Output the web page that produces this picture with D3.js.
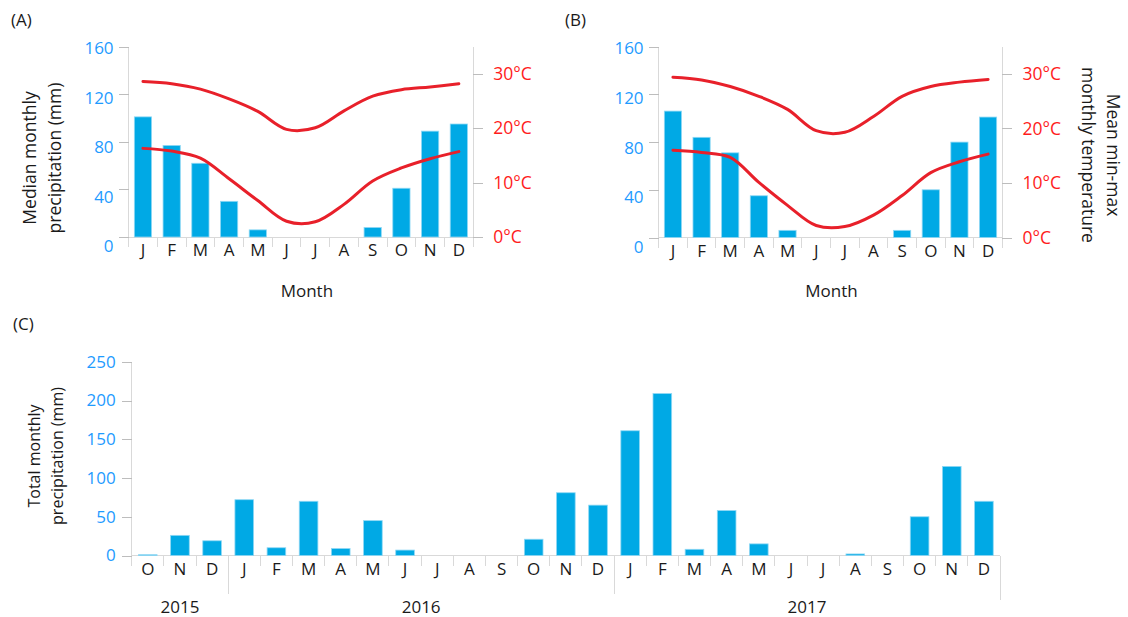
<!DOCTYPE html>
<html>
<head>
<meta charset="utf-8">
<script src="https://cdn.jsdelivr.net/npm/d3@7"></script>
<style>
  html, body { margin: 0; padding: 0; background: #fff; }
  svg { display: block; font-family: "Open Sans", "DejaVu Sans", sans-serif; }
</style>
</head>
<body>
<svg id="chart" width="1128" height="617"></svg>
<script>
// ---- data ----
const monthLetters = ["J","F","M","A","M","J","J","A","S","O","N","D"];

// Site A: median monthly precipitation (mm), mean max / min temperature (°C)
const precipA = [101, 77, 62, 30, 6, 0, 0, 0, 8, 41, 89, 95];
const tmaxA   = [28.6, 28.2, 27.2, 25.4, 23.1, 19.8, 20.1, 23.2, 25.9, 27.1, 27.6, 28.2];
const tminA   = [16.3, 15.8, 14.5, 10.7, 6.7, 2.9, 2.8, 6.0, 10.3, 12.7, 14.4, 15.7];

// Site B
const precipB = [106, 84, 71, 35, 6, 0, 0, 0, 6, 40, 80, 101];
const tmaxB   = [29.4, 28.9, 27.7, 25.9, 23.5, 19.6, 19.3, 22.2, 25.9, 27.7, 28.5, 29.0];
const tminB   = [16.0, 15.6, 14.7, 10.1, 5.9, 2.2, 2.0, 4.1, 7.7, 11.9, 13.9, 15.3];

const precipTicks = [0, 40, 80, 120, 160];
const tempTicks = [0, 10, 20, 30];

// Panel C: total monthly precipitation, Oct 2015 – Dec 2017
const monthsC = ["O","N","D","J","F","M","A","M","J","J","A","S","O","N","D",
                 "J","F","M","A","M","J","J","A","S","O","N","D"];
const precipC = [1, 26, 19, 72, 10, 70, 9, 45, 7, 0, 0, 0, 21, 81, 65,
                 161, 209, 8, 58, 15, 0, 0, 2, 0, 50, 115, 70];
const years = ["2015", "2016", "2017"];
const monthsPerYear = [3, 12, 12];
const precipTicksC = [0, 50, 100, 150, 200, 250];

// ---- style ----
const BAR = "#00a9e5", BAR_EDGE = "#8fd8f4";
const LINE_RED = "#e8202a", TEMP_TXT = "#ff1c1c", BLUE_TXT = "#1e9bff";
const AXIS = "#d9d9d9", TICK = "#bdbdbd", INK = "#1a1a1a";

const svg = d3.select("#chart");
svg.append("rect").attr("width", 1128).attr("height", 617).attr("fill", "#fff");

function vline(g, x, y1, y2, color) {
  g.append("line").attr("x1", x).attr("x2", x).attr("y1", y1).attr("y2", y2)
    .attr("stroke", color).attr("stroke-width", 1).attr("shape-rendering", "crispEdges");
}
function hline(g, x1, x2, y, color) {
  g.append("line").attr("x1", x1).attr("x2", x2).attr("y1", y).attr("y2", y)
    .attr("stroke", color).attr("stroke-width", 1).attr("shape-rendering", "crispEdges");
}

function styleAxis(ax, color, size) {
  ax.select(".domain").remove();
  ax.selectAll(".tick line").attr("stroke", TICK).attr("shape-rendering", "crispEdges");
  ax.selectAll(".tick text").attr("fill", color).style("font-size", size + "px")
    .style("font-family", "'Open Sans', sans-serif");
}

// ---- climate panel (bars + min/max temperature lines) ----
function climatePanel(o) {
  const g = svg.append("g");
  const x = d3.scaleBand().domain(d3.range(12)).range([o.left, o.right])
    .paddingInner(0.4).paddingOuter(0.2);
  const y = d3.scaleLinear().domain([0, 160]).range([o.bottom, o.top]);
  const yT = d3.scaleLinear().domain([0, 35]).range([o.bottom, o.top]);
  // tick labels sit on a slightly looser spacing than the ticks themselves
  const yLab = d3.scaleLinear().domain([0, 160]).range([o.bottom + 9.5, o.top + 1.8]);
  const step = x.step();

  // axis frame
  vline(g, o.left, o.top, o.bottom + 10, AXIS);
  vline(g, o.right, o.top, o.bottom + 10, AXIS);
  hline(g, o.left, o.right, o.bottom, AXIS);
  for (let k = 1; k < 12; k++) vline(g, o.left + k * step, o.bottom, o.bottom + 10, AXIS);

  // left precipitation axis
  const axL = g.append("g").attr("transform", `translate(${o.left},0)`)
    .call(d3.axisLeft(y).tickValues(precipTicks).tickSize(10).tickPadding(5));
  styleAxis(axL, BLUE_TXT, 17);
  axL.selectAll(".tick text").attr("y", d => yLab(d) - y(d));

  // right temperature axis
  const axR = g.append("g").attr("transform", `translate(${o.right},0)`)
    .call(d3.axisRight(yT).tickValues(tempTicks).tickSize(10).tickPadding(10)
      .tickFormat(d => d + "°C"));
  styleAxis(axR, TEMP_TXT, 17.5);

  // month letters
  const axB = g.append("g").attr("transform", `translate(0,${o.bottom})`)
    .call(d3.axisBottom(x).tickSize(0).tickPadding(7).tickFormat(i => monthLetters[i]));
  styleAxis(axB, INK, 17);

  // bars
  g.selectAll("rect.bar").data(o.precip).join("rect").attr("class", "bar")
    .attr("x", (d, i) => x(i)).attr("width", x.bandwidth())
    .attr("y", d => y(d)).attr("height", d => y(0) - y(d))
    .attr("fill", BAR).attr("stroke", BAR_EDGE).attr("stroke-width", 0.8);

  // temperature lines
  const line = d3.line().x((d, i) => x(i) + x.bandwidth() / 2).y(d => yT(d))
    .curve(d3.curveCatmullRom.alpha(0.5));
  [o.tmax, o.tmin].forEach(series => {
    g.append("path").datum(series).attr("d", line).attr("fill", "none")
      .attr("stroke", LINE_RED).attr("stroke-width", 3).attr("stroke-linejoin", "round")
      .attr("stroke-linecap", "round");
  });

  // x title
  g.append("text").attr("x", (o.left + o.right) / 2 + o.monthDx).attr("y", 297)
    .attr("text-anchor", "middle").attr("fill", INK).style("font-size", "17px").text("Month");

  // panel tag
  svg.append("text").attr("x", o.tagX).attr("y", 26).attr("fill", INK)
    .style("font-size", "17px").text(o.tag);
  return g;
}

const gA = climatePanel({ left: 128.6, right: 473.2, top: 46.7, bottom: 237, precip: precipA,
  tmax: tmaxA, tmin: tminA, tag: "(A)", tagX: 11, monthDx: 6 });
const gB = climatePanel({ left: 658.6, right: 1002.4, top: 46.7, bottom: 237.5, precip: precipB,
  tmax: tmaxB, tmin: tminB, tag: "(B)", tagX: 565, monthDx: 1 });

// left axis title of A
const tA = svg.append("text").attr("transform", "translate(0,158) rotate(-90)")
  .attr("text-anchor", "middle").attr("fill", INK).style("font-size", "17.5px");
tA.append("tspan").attr("x", 0).attr("y", 36).text("Median monthly");
tA.append("tspan").attr("x", 0).attr("y", 61).text("precipitation (mm)");

// right axis title of B
const tB = svg.append("text").attr("transform", "translate(1100,155) rotate(90)")
  .attr("text-anchor", "middle").attr("fill", INK).style("font-size", "17.5px");
tB.append("tspan").attr("x", 0).attr("y", -7).text("Mean min-max");
tB.append("tspan").attr("x", 0).attr("y", 18).text("monthly temperature");

// ---- panel C: monthly totals ----
(function () {
  const left = 131.7, right = 1000, top = 361.8, bottom = 555.5;
  const g = svg.append("g");
  const x = d3.scaleBand().domain(d3.range(monthsC.length)).range([left, right])
    .paddingInner(0.42).paddingOuter(0.21);
  const y = d3.scaleLinear().domain([0, 250]).range([bottom, top]);
  const step = x.step();

  vline(g, left, top, bottom + 10, AXIS);
  hline(g, left, right, bottom, AXIS);
  // month separators, longer ones at year boundaries
  const yearEdges = d3.cumsum(monthsPerYear);
  for (let k = 1; k <= monthsC.length; k++) {
    const isYear = yearEdges.includes(k);
    const yEnd = k === monthsC.length ? bottom + 44 : (isYear ? bottom + 38 : bottom + 10);
    vline(g, left + k * step, bottom, yEnd, AXIS);
  }

  const axL = g.append("g").attr("transform", `translate(${left},0)`)
    .call(d3.axisLeft(y).tickValues(precipTicksC).tickSize(10).tickPadding(6));
  styleAxis(axL, BLUE_TXT, 17);

  const axB = g.append("g").attr("transform", `translate(0,${bottom})`)
    .call(d3.axisBottom(x).tickSize(0).tickPadding(7).tickFormat(i => monthsC[i]));
  styleAxis(axB, INK, 17);

  g.selectAll("rect.bar").data(precipC).join("rect").attr("class", "bar")
    .attr("x", (d, i) => x(i)).attr("width", x.bandwidth())
    .attr("y", d => y(d)).attr("height", d => y(0) - y(d))
    .attr("fill", BAR).attr("stroke", BAR_EDGE).attr("stroke-width", 0.8);

  // year labels centred under their months
  const starts = [0, ...yearEdges.slice(0, -1)];
  years.forEach((yr, i) => {
    const cx = left + (starts[i] + monthsPerYear[i] / 2) * step;
    g.append("text").attr("x", cx).attr("y", 612.5).attr("text-anchor", "middle")
      .attr("fill", INK).style("font-size", "17px").text(yr);
  });

  const tC = svg.append("text").attr("transform", "translate(0,456) rotate(-90)")
    .attr("text-anchor", "middle").attr("fill", INK).style("font-size", "16px");
  tC.append("tspan").attr("x", 0).attr("y", 40).text("Total monthly");
  tC.append("tspan").attr("x", 0).attr("y", 63).text("precipitation (mm)");

  svg.append("text").attr("x", 13).attr("y", 330).attr("fill", INK)
    .style("font-size", "17px").text("(C)");
})();
</script>
</body>
</html>
